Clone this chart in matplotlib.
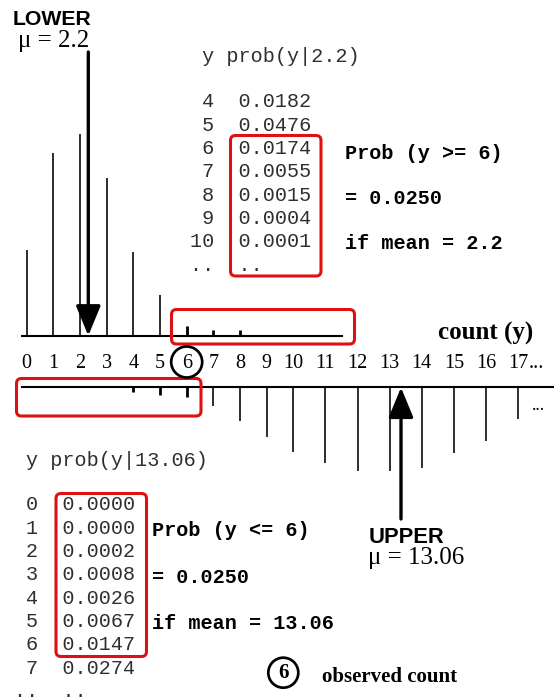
import numpy as np
import matplotlib
matplotlib.use("Agg")
import matplotlib.pyplot as plt
from matplotlib import transforms
from matplotlib.patches import FancyBboxPatch, Circle

# Datos: Poisson con media inferior (2.2) y superior (13.06)
lower_mu = 2.2
upper_mu = 13.06
lower_counts = [0, 1, 2, 3, 4, 5, 6, 7, 8]
lower_probs = [0.113, 0.240, 0.266, 0.207, 0.110, 0.054, 0.013, 0.008, 0.008]
upper_counts = [4, 5, 6, 7, 8, 9, 10, 11, 12, 13, 14, 15, 16, 17]
upper_probs = [0.007, 0.011, 0.014, 0.026, 0.045, 0.067, 0.086, 0.101,
               0.111, 0.111, 0.107, 0.088, 0.072, 0.043]
observed = 6
axis_counts = list(range(18))

# Tablas de probabilidades (texto)
lower_rows = [4, 5, 6, 7, 8, 9, 10]
lower_vals = ["0.0182", "0.0476", "0.0174", "0.0055", "0.0015", "0.0004", "0.0001"]
upper_rows = [0, 1, 2, 3, 4, 5, 6, 7]
upper_vals = ["0.0000", "0.0000", "0.0002", "0.0008", "0.0026", "0.0067", "0.0147", "0.0274"]
tail_prob = "0.0250"

RED = "#dd1111"
GREY = "#2e2e2e"
MONO = "Liberation Mono"
SERIF = "Liberation Serif"
SANS = "Liberation Sans"
W, H = 554, 700
PX_PER_PROB = 760.0   # escala vertical de las barras


# escala del eje de conteos: los de dos cifras ocupan mas sitio
def fwd(k):
    k = np.asarray(k, dtype=float)
    return np.where(k <= 10, 26.67 * (k + 1), 293.3 + 32.1 * (k - 10))


def inv(x):
    x = np.asarray(x, dtype=float)
    return np.where(x <= 293.3, x / 26.67 - 1, 10 + (x - 293.3) / 32.1)


fig = plt.figure(figsize=(W / 100, H / 100), dpi=100)

# capa de fondo en pixeles para textos y anotaciones
bg = fig.add_axes([0, 0, 1, 1])
bg.set_xlim(0, W)
bg.set_ylim(H, 0)
bg.axis("off")

top_base = 335.7
bot_base = 386.5
span = 220

ax_top = fig.add_axes([0, (H - top_base) / H, 1, span / H])
ax_bot = fig.add_axes([0, (H - bot_base - span) / H, 1, span / H])
for ax in (ax_top, ax_bot):
    ax.set_xscale("function", functions=(fwd, inv))
    ax.set_xlim(float(inv(0)), float(inv(W)))
    ax.axis("off")
    ax.patch.set_alpha(0)
ax_top.set_ylim(0, span / PX_PER_PROB)
ax_bot.set_ylim(span / PX_PER_PROB, 0)

# barras
for ax, cnts, probs in ((ax_top, lower_counts, lower_probs),
                        (ax_bot, upper_counts, upper_probs)):
    cnts = np.array(cnts)
    probs = np.array(probs)
    thin = probs >= 0.02
    ax.vlines(cnts[thin], 0, probs[thin], color="k", lw=1.15, clip_on=False)
    ax.vlines(cnts[~thin], 0, probs[~thin], color="k", lw=2.0, clip_on=False)

# lineas base
bg.plot([21.7, 342.3], [top_base, top_base], color="k", lw=1.5)
bg.plot([21.7, W], [bot_base, bot_base], color="k", lw=1.5)
bg.text(538, 406, "...", fontsize=13, family=SERIF, ha="center", va="center")

# etiquetas del eje
mix = transforms.blended_transform_factory(ax_bot.transData, bg.transData)
for k in axis_counts:
    bg.text(k, 363.3, str(k), transform=mix, fontsize=14.5, family=SERIF,
            ha="center", va="center")
bg.annotate("...", xy=(axis_counts[-1], 363.3), xycoords=mix, xytext=(7.3, 0),
            textcoords="offset points", fontsize=14.5, family=SERIF,
            ha="left", va="center")
bg.add_patch(Circle((float(fwd(observed)), 362), 15.5, fill=False, lw=1.95,
                    ec="k", zorder=5))
bg.text(438.3, 333.3, "count (y)", fontsize=18, family=SERIF, weight="bold",
        ha="left", va="center")

# flechas de las medias
arrow = dict(arrowstyle="-|>,head_length=0.92,head_width=0.38", color="k",
             lw=2.4, shrinkA=0, shrinkB=0, mutation_scale=20)
bg.annotate("", xy=(88.3, top_base), xytext=(88.3, 52), arrowprops=arrow)
bg.annotate("", xy=(401, bot_base + 1), xytext=(401, 519), arrowprops=arrow)

bg.text(12.3, 19.2, "LOWER", fontsize=15.3, family=SANS, weight="bold",
        ha="left", va="center")
bg.text(18.3, 40.8, "\u03bc = %s" % lower_mu, fontsize=18, family=SERIF,
        ha="left", va="center")
bg.text(368.3, 537.5, "UPPER", fontsize=15.8, family=SANS, weight="bold",
        ha="left", va="center")
bg.text(368, 558.3, "\u03bc = %s" % upper_mu, fontsize=18, family=SERIF,
        ha="left", va="center")

# tabla superior
pitch = 23.33
bg.text(189.5, 56.7, " y prob(y|%s)" % lower_mu, family=MONO, fontsize=14.5,
        color=GREY, ha="left", va="center")
for i, (k, v) in enumerate(zip(lower_rows, lower_vals)):
    bg.text(189.5, 101.7 + pitch * i, "%2d  %s" % (k, v), family=MONO,
            fontsize=14.5, color=GREY, ha="left", va="center")
bg.text(189.5, 101.7 + pitch * len(lower_rows), "..  ..", family=MONO,
        fontsize=14.5, color=GREY, ha="left", va="center")

bg.text(345, 153.3, "Prob (y >= %d)" % observed, family=MONO, fontsize=14.5,
        weight="bold", ha="left", va="center")
bg.text(345, 198.3, "= %s" % tail_prob, family=MONO, fontsize=14.5,
        weight="bold", ha="left", va="center")
bg.text(345, 243.3, "if mean = %s" % lower_mu, family=MONO, fontsize=14.5,
        weight="bold", ha="left", va="center")

# tabla inferior
bg.text(26.5, 460, "y prob(y|%s)" % upper_mu, family=MONO, fontsize=14.5,
        color=GREY, ha="left", va="center")
for i, (k, v) in enumerate(zip(upper_rows, upper_vals)):
    bg.text(26.5, 505 + pitch * i, "%d  %s" % (k, v), family=MONO,
            fontsize=14.5, color=GREY, ha="left", va="center")
bg.text(14.4, 505 + pitch * len(upper_rows), "..  ..", family=MONO,
        fontsize=14.5, color=GREY, ha="left", va="center")

bg.text(152.5, 530, "Prob (y <= %d)" % observed, family=MONO, fontsize=14.5,
        weight="bold", ha="left", va="center")
bg.text(152.5, 577.7, "= %s" % tail_prob, family=MONO, fontsize=14.5,
        weight="bold", ha="left", va="center")
bg.text(152.5, 623.3, "if mean = %s" % upper_mu, family=MONO, fontsize=14.5,
        weight="bold", ha="left", va="center")

# recuadros rojos
for (x, y, w, h) in [(230.5, 135.5, 90.5, 140.5), (171.5, 309.5, 183, 34.5),
                     (16.5, 378.5, 184.5, 37.5), (56, 493.5, 90.5, 163)]:
    bg.add_patch(FancyBboxPatch((x, y), w, h,
                                boxstyle="round,pad=0,rounding_size=5",
                                fill=False, ec=RED, lw=2.2, zorder=4))

# leyenda del conteo observado
bg.add_patch(Circle((283.3, 672.7), 15, fill=False, lw=1.95, ec="k"))
bg.text(283.3, 673, str(observed), fontsize=15, family=SERIF, weight="bold",
        ha="center", va="center")
bg.text(322, 677, "observed count", fontsize=15, family=SERIF, weight="bold",
        ha="left", va="center")

fig.savefig("out.png", dpi=100)
